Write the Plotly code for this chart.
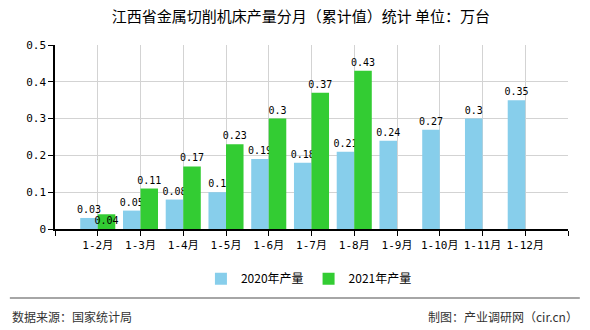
import plotly.graph_objects as go

categories = ["1-2月", "1-3月", "1-4月", "1-5月", "1-6月", "1-7月", "1-8月", "1-9月", "1-10月", "1-11月", "1-12月"]
values_2020 = [0.03, 0.05, 0.08, 0.1, 0.19, 0.18, 0.21, 0.24, 0.27, 0.3, 0.35]
values_2021 = [0.04, 0.11, 0.17, 0.23, 0.3, 0.37, 0.43]
series_names = ["2020年产量", "2021年产量"]
y_ticks = [0, 0.1, 0.2, 0.3, 0.4, 0.5]
y_tick_labels = ["0", "0.1", "0.2", "0.3", "0.4", "0.5"]
title_text = "江西省金属切削机床产量分月（累计值）统计 单位：万台"
source_text = "数据来源：国家统计局"
credit_text = "制图：产业调研网（cir.cn）"

num_font = "DejaVu Sans Mono, Noto Sans CJK SC"
cjk_font = "Noto Sans CJK SC, DejaVu Sans"

idx = list(range(len(categories)))
pos_2021 = ["inside"] + ["outside"] * (len(values_2021) - 1)

fig = go.Figure()
fig.add_trace(go.Bar(
    x=idx, y=values_2020, name=series_names[0],
    marker=dict(color="#87CEEB", line=dict(width=0)),
    text=[str(v) for v in values_2020], textposition="outside",
    constraintext="none",
    textfont=dict(family=num_font, size=10, color="#000"),
    cliponaxis=False,
))
fig.add_trace(go.Bar(
    x=idx[:len(values_2021)], y=values_2021, name=series_names[1],
    marker=dict(color="#33CC33", line=dict(width=0)),
    text=[str(v) for v in values_2021], textposition=pos_2021,
    insidetextanchor="start", constraintext="none",
    textfont=dict(family=num_font, size=10, color="#000"),
    insidetextfont=dict(family=num_font, size=10, color="#000"),
    cliponaxis=False,
))

fig.update_layout(
    width=590, height=330,
    margin=dict(l=55, r=22, t=45, b=101),
    paper_bgcolor="white", plot_bgcolor="white",
    barmode="group", bargap=0.18, bargroupgap=0,
    title=dict(text=title_text, x=0.51, xanchor="center", y=0.948, yanchor="middle",
               font=dict(family=cjk_font, size=15, color="#000")),
    showlegend=True,
    legend=dict(orientation="h", x=0.495, xanchor="center", y=-0.27, yanchor="middle",
                font=dict(family=cjk_font, size=12, color="#000"),
                itemwidth=30, bgcolor="rgba(0,0,0,0)"),
    xaxis=dict(
        range=[-1, len(categories)],
        tickmode="array",
        tickvals=list(range(-1, len(categories) + 1)),
        ticktext=[""] + categories + [""],
        tickangle=0,
        showgrid=True, gridcolor="#d3d3d3", gridwidth=1,
        showline=True, linecolor="#000", linewidth=1.5,
        ticks="outside", ticklen=5, tickcolor="#000",
        tickfont=dict(family=num_font, size=11, color="#000"),
        zeroline=False,
    ),
    yaxis=dict(
        range=[0, 0.5],
        tickmode="array", tickvals=y_ticks, ticktext=y_tick_labels,
        showgrid=True, gridcolor="#d3d3d3", gridwidth=1,
        showline=True, linecolor="#000", linewidth=1.5,
        ticks="outside", ticklen=5, tickcolor="#000",
        tickfont=dict(family=num_font, size=11, color="#000"),
        zeroline=False,
    ),
)

fig.add_shape(type="line", xref="paper", yref="paper",
              x0=-0.088, x1=1.023, y0=-0.375, y1=-0.375,
              line=dict(color="#888888", width=1.5))
fig.add_annotation(text=source_text, xref="paper", yref="paper",
                   x=-0.088, xanchor="left", y=-0.475, yanchor="middle",
                   showarrow=False, font=dict(family=cjk_font, size=12, color="#333"))
fig.add_annotation(text=credit_text, xref="paper", yref="paper",
                   x=1.023, xanchor="right", y=-0.475, yanchor="middle",
                   showarrow=False, font=dict(family=cjk_font, size=12, color="#333"))

fig.write_html("out.html")
